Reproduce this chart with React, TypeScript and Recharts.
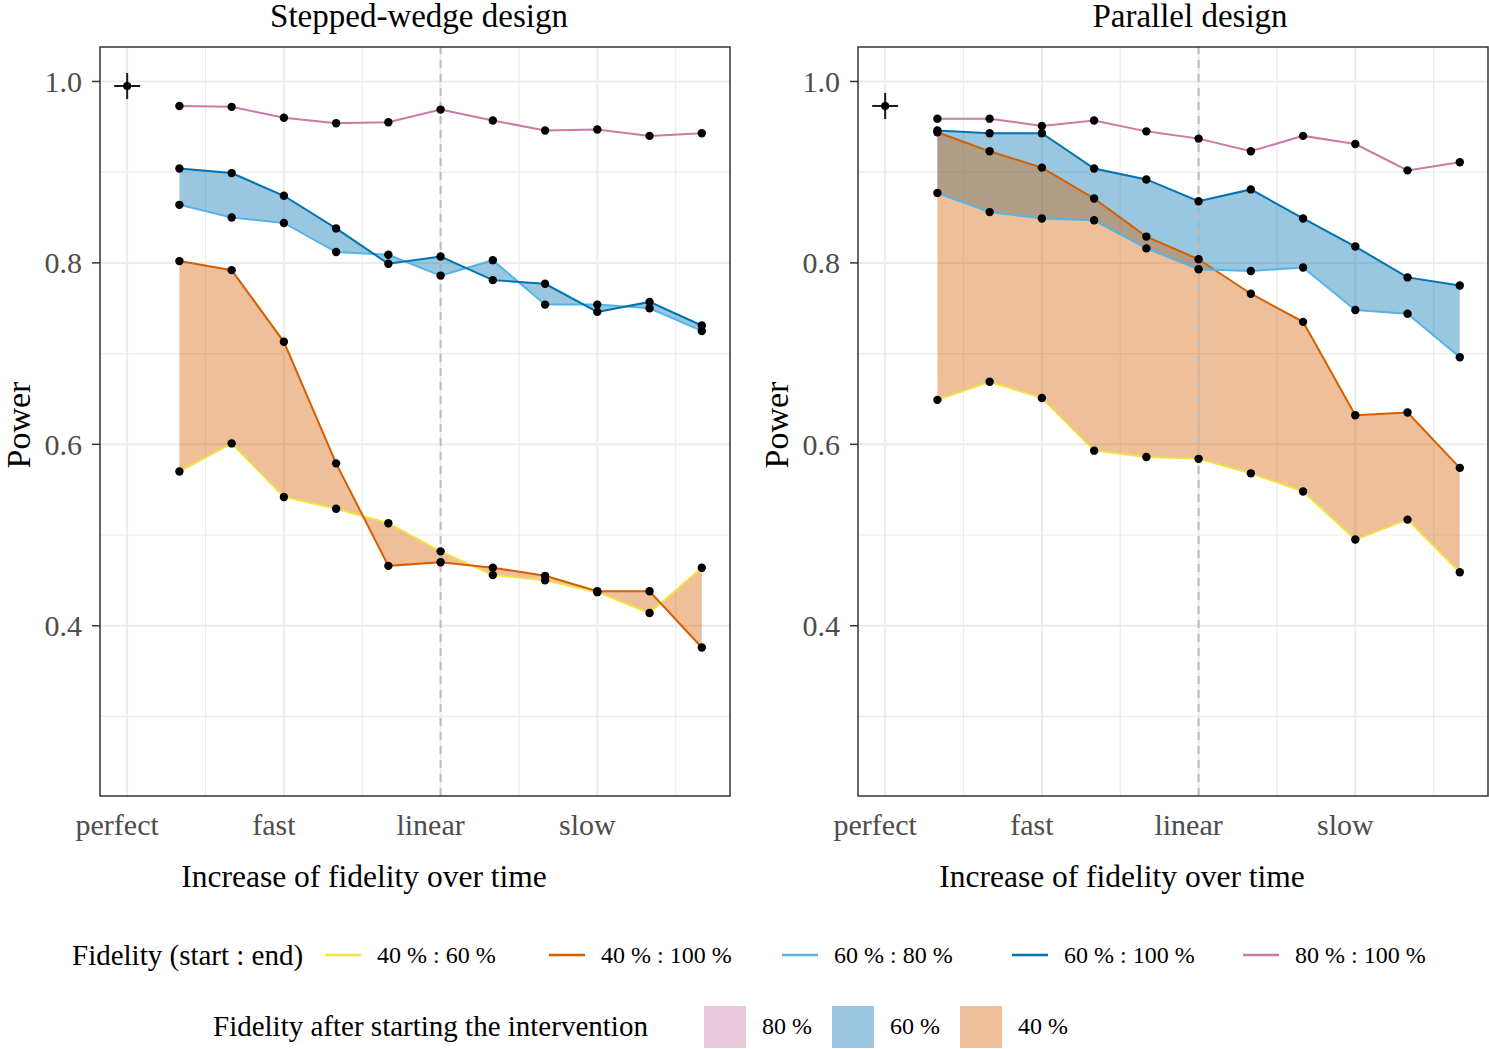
import React from 'react';
import {
  ComposedChart,
  Line,
  Area,
  XAxis,
  YAxis,
  ReferenceLine,
  Scatter,
  CartesianGrid,
} from 'recharts';

// ---------- data ----------
const positions = [1, 2, 3, 4, 5, 6, 7, 8, 9, 10, 11];
const xTickValues = [0, 3, 6, 9];
const xTickLabels = ['perfect', 'fast', 'linear', 'slow'];
const yTicks = [0.4, 0.6, 0.8, 1.0];
const yMinorGrid = [0.3, 0.5, 0.7, 0.9];
const xMinorGrid = [1.5, 4.5, 7.5, 10.5];

const panelTitles = ['Stepped-wedge design', 'Parallel design'];
const xAxisTitle = 'Increase of fidelity over time';
const yAxisTitle = 'Power';

// Stepped-wedge design
const swFid40to60 = [0.570, 0.601, 0.542, 0.529, 0.513, 0.482, 0.456, 0.450, 0.437, 0.414, 0.464];
const swFid40to100 = [0.802, 0.792, 0.713, 0.579, 0.466, 0.470, 0.464, 0.455, 0.438, 0.438, 0.376];
const swFid60to80 = [0.864, 0.850, 0.844, 0.812, 0.809, 0.786, 0.803, 0.754, 0.754, 0.750, 0.725];
const swFid60to100 = [0.904, 0.899, 0.874, 0.838, 0.799, 0.807, 0.781, 0.777, 0.746, 0.757, 0.731];
const swFid80to100 = [0.973, 0.972, 0.960, 0.954, 0.955, 0.969, 0.957, 0.946, 0.947, 0.940, 0.943];
const swPerfect = 0.995;

// Parallel design
const parFid40to60 = [0.649, 0.669, 0.651, 0.593, 0.586, 0.584, 0.568, 0.548, 0.495, 0.517, 0.459];
const parFid40to100 = [0.944, 0.923, 0.905, 0.871, 0.829, 0.804, 0.766, 0.735, 0.632, 0.635, 0.574];
const parFid60to80 = [0.877, 0.856, 0.849, 0.847, 0.816, 0.793, 0.791, 0.795, 0.748, 0.744, 0.696];
const parFid60to100 = [0.946, 0.943, 0.943, 0.904, 0.892, 0.868, 0.881, 0.849, 0.818, 0.784, 0.775];
const parFid80to100 = [0.959, 0.959, 0.951, 0.957, 0.945, 0.937, 0.923, 0.940, 0.931, 0.902, 0.911];
const parPerfect = 0.973;

const lineKeys = ['f40_60', 'f40_100', 'f60_80', 'f60_100', 'f80_100'];
const lineLabels = ['40 % : 60 %', '40 % : 100 %', '60 % : 80 %', '60 % : 100 %', '80 % : 100 %'];
const lineColors = ['#f0e442', '#d55e00', '#56b4e9', '#0072b2', '#cc79a7'];
const fillLabels = ['80 %', '60 %', '40 %'];
const fillColors = ['#cc79a7', '#0072b2', '#d55e00'];
const legendTitles = ['Fidelity (start : end)', 'Fidelity after starting the intervention'];

const FONT = "'Liberation Serif', 'Times New Roman', serif";

function makeRows(a: number[], b: number[], c: number[], d: number[], e: number[]) {
  return positions.map((x, i) => ({
    x,
    f40_60: a[i],
    f40_100: b[i],
    f60_80: c[i],
    f60_100: d[i],
    f80_100: e[i],
    band40: [a[i], b[i]],
    band60: [c[i], d[i]],
  }));
}

const swRows = makeRows(swFid40to60, swFid40to100, swFid60to80, swFid60to100, swFid80to100);
const parRows = makeRows(parFid40to60, parFid40to100, parFid60to80, parFid60to100, parFid80to100);

// ---------- custom renderers ----------
const XTick = (props: any) => {
  const { x, y, payload } = props;
  const idx = xTickValues.indexOf(payload.value);
  return (
    <text x={x - 10} y={y + 39} textAnchor="middle" fill="#4d4d4d" fontSize={30} fontFamily={FONT}>
      {idx >= 0 ? xTickLabels[idx] : ''}
    </text>
  );
};

const YTick = (props: any) => {
  const { x, y, payload } = props;
  return (
    <text x={x} y={y} dy="0.35em" textAnchor="end" fill="#4d4d4d" fontSize={30} fontFamily={FONT}>
      {Number(payload.value).toFixed(1)}
    </text>
  );
};

const Cross = (props: any) => {
  const { cx, cy } = props;
  return (
    <g>
      <line x1={cx - 13} x2={cx + 13} y1={cy} y2={cy} stroke="#1a1a1a" strokeWidth={2} />
      <line x1={cx} x2={cx} y1={cy - 13} y2={cy + 13} stroke="#1a1a1a" strokeWidth={2} />
      <circle cx={cx} cy={cy} r={4} fill="#000" />
    </g>
  );
};

function Panel({ left, rows, perfect }: { left: number; rows: any[]; perfect: number }) {
  return (
    <div style={{ position: 'absolute', left, top: 0 }}>
      <ComposedChart
        width={740}
        height={850}
        data={rows}
        margin={{ top: 47, right: 10, bottom: 14, left: 40 }}
      >
        <CartesianGrid
          stroke="#ebebeb"
          strokeWidth={1.2}
          verticalValues={xMinorGrid}
          horizontalValues={yMinorGrid}
        />
        <CartesianGrid
          stroke="#ebebeb"
          strokeWidth={2}
          verticalValues={xTickValues}
          horizontalValues={yTicks}
        />
        <XAxis
          type="number"
          dataKey="x"
          domain={[-0.52, 11.54]}
          ticks={xTickValues}
          interval={0}
          tick={<XTick />}
          tickLine={false}
          axisLine={false}
          tickSize={0}
          tickMargin={0}
          height={40}
          allowDataOverflow
        />
        <YAxis
          type="number"
          domain={[0.2123, 1.038]}
          ticks={yTicks}
          interval={0}
          width={60}
          tickSize={8}
          tickMargin={10}
          axisLine={false}
          tickLine={{ stroke: '#333333', strokeWidth: 1.5 }}
          tick={<YTick />}
          allowDataOverflow
        />
        <Area
          type="linear"
          dataKey="band60"
          stroke="none"
          fill="#0072b2"
          fillOpacity={0.4}
          isAnimationActive={false}
          activeDot={false}
        />
        <Area
          type="linear"
          dataKey="band40"
          stroke="none"
          fill="#d55e00"
          fillOpacity={0.4}
          isAnimationActive={false}
          activeDot={false}
        />
        {lineKeys.map((k, i) => (
          <Line
            key={k}
            type="linear"
            dataKey={k}
            stroke={lineColors[i]}
            strokeWidth={2}
            dot={{ r: 4.2, fill: '#000', stroke: '#000', strokeWidth: 0 }}
            activeDot={false}
            isAnimationActive={false}
          />
        ))}
        <ReferenceLine x={6} stroke="#bdbdbd" strokeWidth={2} strokeDasharray="8 6" />
        <Scatter
          data={[{ x: 0, y: perfect }]}
          dataKey="y"
          shape={<Cross />}
          isAnimationActive={false}
        />
      </ComposedChart>
    </div>
  );
}

export default function App() {
  const panelLefts = [100, 858];
  const titleCenters = [419, 1190];
  const xTitleCenters = [364, 1122];
  const lineKeyX = [325, 549, 782, 1012, 1243];
  const fillBoxX = [704, 832, 960];
  return (
    <div
      style={{
        position: 'absolute',
        left: 0,
        top: 0,
        width: 1489,
        height: 1049,
        background: '#fff',
        fontFamily: FONT,
        overflow: 'hidden',
      }}
    >
      <Panel left={0} rows={swRows} perfect={swPerfect} />
      <Panel left={758} rows={parRows} perfect={parPerfect} />
      <svg
        width={1489}
        height={1049}
        style={{ position: 'absolute', left: 0, top: 0, pointerEvents: 'none' }}
      >
        {panelLefts.map((pl, i) => (
          <g key={i}>
            <rect x={pl} y={47} width={630} height={749} fill="none" stroke="#333333" strokeWidth={1.5} />
            <text x={titleCenters[i]} y={27} textAnchor="middle" fontSize={33} fontFamily={FONT} fill="#000">
              {panelTitles[i]}
            </text>
            <text
              x={xTitleCenters[i]}
              y={887}
              textAnchor="middle"
              fontSize={31.5}
              fontFamily={FONT}
              fill="#000"
            >
              {xAxisTitle}
            </text>
            <text
              transform={`translate(${pl - 70},425) rotate(-90)`}
              textAnchor="middle"
              fontSize={34}
              fontFamily={FONT}
              fill="#000"
            >
              {yAxisTitle}
            </text>
          </g>
        ))}
        {/* legend row 1 */}
        <text x={72} y={955} dy="0.35em" fontSize={29} fontFamily={FONT} fill="#000">
          {legendTitles[0]}
        </text>
        {lineLabels.map((lab, i) => (
          <g key={lab}>
            <line
              x1={lineKeyX[i]}
              x2={lineKeyX[i] + 36}
              y1={955}
              y2={955}
              stroke={lineColors[i]}
              strokeWidth={2.5}
            />
            <text x={lineKeyX[i] + 52} y={955} dy="0.35em" fontSize={24} fontFamily={FONT} fill="#000">
              {lab}
            </text>
          </g>
        ))}
        {/* legend row 2 */}
        <text x={213} y={1026} dy="0.35em" fontSize={29} fontFamily={FONT} fill="#000">
          {legendTitles[1]}
        </text>
        {fillLabels.map((lab, i) => (
          <g key={lab}>
            <rect x={fillBoxX[i]} y={1006} width={42} height={42} fill={fillColors[i]} fillOpacity={0.4} />
            <text x={fillBoxX[i] + 58} y={1026} dy="0.35em" fontSize={24} fontFamily={FONT} fill="#000">
              {lab}
            </text>
          </g>
        ))}
      </svg>
    </div>
  );
}
